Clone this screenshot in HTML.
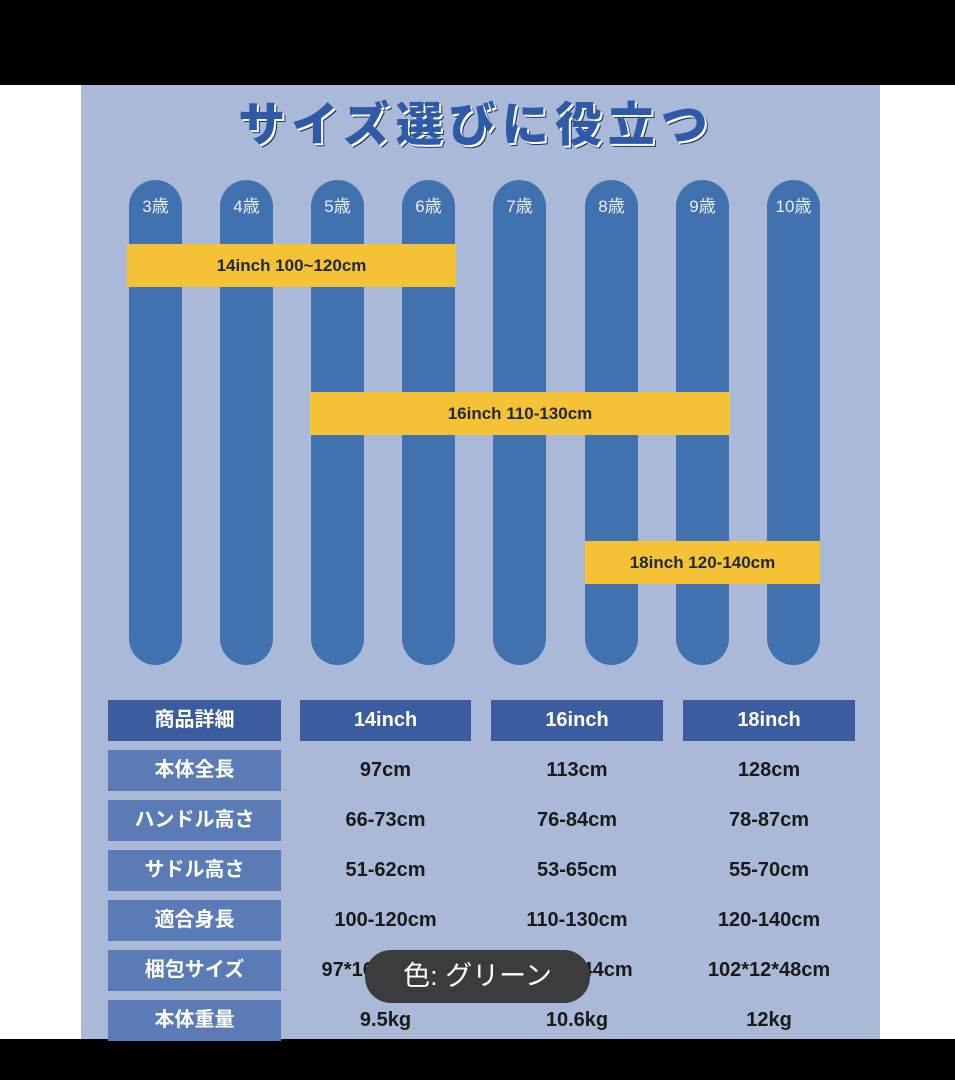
<!DOCTYPE html>
<html><head><meta charset="utf-8"><style>
*{margin:0;padding:0;box-sizing:border-box}
body{width:955px;height:1080px;background:#fff;position:relative;overflow:hidden;font-family:"Liberation Sans","Noto Sans CJK JP",sans-serif}
.a{position:absolute}
.p{position:absolute;top:180px;width:53px;height:485px;background:#4271b0;border-radius:27px;color:#e8eef8;font-size:17px;text-align:center;padding-top:12px}
.y{position:absolute;background:#f4c234;color:#1e2a44;font-size:17px;font-weight:bold;text-align:center;line-height:43px;height:43px}
.c{position:absolute;height:41px;line-height:41px;text-align:center;font-size:20px}
.h{background:#3b5c9f;color:#fff;font-weight:bold}
.l{background:#5a7bb6;color:#fff;font-weight:bold}
.v{color:#1a1a1a;font-size:20px;font-weight:bold}
</style></head><body>
<div class="a" style="left:0;top:0;width:955px;height:85px;background:#000"></div>
<div class="a" style="left:81px;top:85px;width:799px;height:955px;background:#aab9d7"></div>
<div class="a" style="left:0;top:1039px;width:955px;height:41px;background:#000"></div>
<div class="a" style="left:226px;top:86px;width:500px;text-align:center;font-size:47px;font-weight:900;color:#2f5aa8;letter-spacing:6px;white-space:nowrap;text-shadow:2px 2px 0 #fff,3px 3px 0 #1b3570">サイズ選びに役立つ</div>
<div class="p" style="left:129px">3歳</div>
<div class="p" style="left:220px">4歳</div>
<div class="p" style="left:311px">5歳</div>
<div class="p" style="left:402px">6歳</div>
<div class="p" style="left:493px">7歳</div>
<div class="p" style="left:585px">8歳</div>
<div class="p" style="left:676px">9歳</div>
<div class="p" style="left:767px">10歳</div>
<div class="y" style="left:127px;top:244px;width:329px">14inch 100~120cm</div>
<div class="y" style="left:310px;top:392px;width:420px">16inch 110-130cm</div>
<div class="y" style="left:585px;top:541px;width:235px">18inch 120-140cm</div>

<div class="c h" style="left:108px;top:700px;width:173px">商品詳細</div>
<div class="c h" style="left:300px;top:700px;width:171px">14inch</div>
<div class="c h" style="left:491px;top:700px;width:172px">16inch</div>
<div class="c h" style="left:683px;top:700px;width:172px">18inch</div>

<div class="c l" style="left:108px;top:750px;width:173px">本体全長</div>
<div class="c l" style="left:108px;top:800px;width:173px">ハンドル高さ</div>
<div class="c l" style="left:108px;top:850px;width:173px">サドル高さ</div>
<div class="c l" style="left:108px;top:900px;width:173px">適合身長</div>
<div class="c l" style="left:108px;top:950px;width:173px">梱包サイズ</div>
<div class="c l" style="left:108px;top:1000px;width:173px">本体重量</div>

<div class="c v" style="left:300px;top:750px;width:171px">97cm</div>
<div class="c v" style="left:491px;top:750px;width:172px">113cm</div>
<div class="c v" style="left:683px;top:750px;width:172px">128cm</div>
<div class="c v" style="left:300px;top:800px;width:171px">66-73cm</div>
<div class="c v" style="left:491px;top:800px;width:172px">76-84cm</div>
<div class="c v" style="left:683px;top:800px;width:172px">78-87cm</div>
<div class="c v" style="left:300px;top:850px;width:171px">51-62cm</div>
<div class="c v" style="left:491px;top:850px;width:172px">53-65cm</div>
<div class="c v" style="left:683px;top:850px;width:172px">55-70cm</div>
<div class="c v" style="left:300px;top:900px;width:171px">100-120cm</div>
<div class="c v" style="left:491px;top:900px;width:172px">110-130cm</div>
<div class="c v" style="left:683px;top:900px;width:172px">120-140cm</div>
<div class="c v" style="left:290px;top:950px;width:191px">97*16.5*55cm</div>
<div class="c v" style="left:481px;top:950px;width:192px">91*18*44cm</div>
<div class="c v" style="left:673px;top:950px;width:192px">102*12*48cm</div>
<div class="c v" style="left:300px;top:1000px;width:171px">9.5kg</div>
<div class="c v" style="left:491px;top:1000px;width:172px">10.6kg</div>
<div class="c v" style="left:683px;top:1000px;width:172px">12kg</div>

<div class="a" style="left:365px;top:950px;width:225px;height:53px;border-radius:26px;background:#3c3c3e;color:#fff;font-size:27px;line-height:53px;text-align:center">色: グリーン</div>
</body></html>
